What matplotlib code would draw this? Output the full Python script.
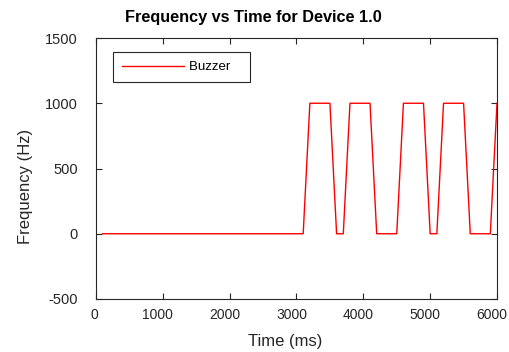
import matplotlib
matplotlib.use('Agg')
import matplotlib.pyplot as plt
import matplotlib.transforms as mtransforms

# Buzzer frequency samples (ms, Hz)
time_ms = [100, 3100, 3200, 3500, 3600, 3700, 3800, 4100, 4200, 4500,
           4600, 4900, 5000, 5100, 5200, 5500, 5600, 5900, 6000]
freq_hz = [0, 0, 1000, 1000, 0, 0, 1000, 1000, 0, 0,
           1000, 1000, 0, 0, 1000, 1000, 0, 0, 1000]

x_ticks = [0, 1000, 2000, 3000, 4000, 5000, 6000]
y_ticks = [-500, 0, 500, 1000, 1500]

plt.rcParams['font.family'] = ['Liberation Sans', 'DejaVu Sans']
plt.rcParams['axes.unicode_minus'] = False

fig = plt.figure(figsize=(5.1, 3.52), dpi=100)
ax = fig.add_axes([96 / 510, 1 - 299 / 352, (497 - 96) / 510, (299 - 38) / 352])

ax.plot(time_ms, freq_hz, color='red', linewidth=1.0, label='Buzzer   ')

ax.set_xlim(0, 6000)
ax.set_ylim(-500, 1500)
ax.set_xticks(x_ticks)
ax.set_yticks(y_ticks)
ax.tick_params(direction='in', top=True, right=True, length=4,
               width=0.8, colors='#262626')
ax.tick_params(axis='x', labelsize=10, pad=6.5)
ax.tick_params(axis='y', labelsize=10.5, pad=13)
for s in ax.spines.values():
    s.set_color('#262626')
    s.set_linewidth(0.8)

# x tick labels sit a little left of their ticks in the original
for lab in ax.get_xticklabels():
    shift = -2 if lab.get_text() == '0' else -5
    lab.set_transform(lab.get_transform() +
                      mtransforms.ScaledTranslation(shift / 100, 0, fig.dpi_scale_trans))

ax.set_xlabel('Time (ms)', fontsize=12, color='#262626', va='center')
ax.xaxis.set_label_coords(0.471, -0.161)
ax.set_ylabel('Frequency (Hz)', fontsize=12, color='#262626', va='center')
ax.yaxis.set_label_coords(-0.177, 0.43)
ax.set_title('Frequency vs Time for Device 1.0', fontsize=11.7, fontweight='bold',
             x=0.393, y=1.08, va='center', pad=0)

leg = ax.legend(loc='upper left', bbox_to_anchor=(0.0424, 0.946), borderaxespad=0,
                fontsize=9.5, handlelength=4.7, handletextpad=0.4, borderpad=0.68,
                fancybox=False, framealpha=1)
leg.get_frame().set_edgecolor('#262626')
leg.get_frame().set_linewidth(0.8)

plt.savefig('out.png', dpi=100)
